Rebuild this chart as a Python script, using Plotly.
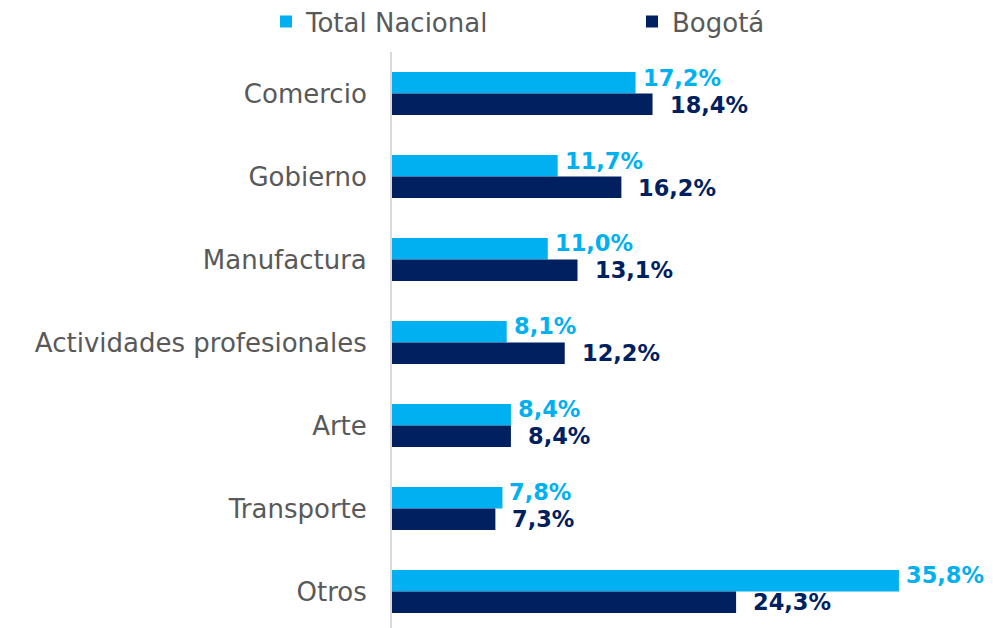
import plotly.graph_objects as go

categories = ["Comercio", "Gobierno", "Manufactura", "Actividades profesionales", "Arte", "Transporte", "Otros"]
total_nacional = [17.2, 11.7, 11.0, 8.1, 8.4, 7.8, 35.8]
bogota = [18.4, 16.2, 13.1, 12.2, 8.4, 7.3, 24.3]
series_names = ["Total Nacional", "Bogotá"]
colors = ["#00B0F0", "#002060"]

def fmt(v):
    return f"{v:.1f}".replace(".", ",") + "%"

FONT = "Century Gothic, DejaVu Sans, sans-serif"
GRAY = "#595959"

fig = go.Figure()
for name, vals, col in zip(series_names, [total_nacional, bogota], colors):
    fig.add_trace(go.Bar(
        y=categories, x=vals, name=name, orientation="h",
        marker=dict(color=col, line=dict(width=0)),
        cliponaxis=False,
    ))

# data labels (placed at each bar's value through the axes)
label_shift = [(5, 16), (15, -11)]
for (xs, ys), vals, col in zip(label_shift, [total_nacional, bogota], colors):
    for cat, v in zip(categories, vals):
        fig.add_annotation(
            x=v, y=cat, xref="x", yref="y", text=fmt(v), showarrow=False,
            xanchor="left", yanchor="middle", xshift=xs, yshift=ys,
            font=dict(family=FONT, size=22.5, color=col, weight="bold"),
        )

fig.update_layout(
    width=977, height=620,
    margin=dict(l=384, r=0, t=44, b=0, autoexpand=False),
    paper_bgcolor="white", plot_bgcolor="white",
    barmode="group", bargap=0.48, bargroupgap=0,
    font=dict(family=FONT, size=26, color=GRAY),
    legend=dict(orientation="h", x=-0.2125, xanchor="left", y=1.012, yanchor="bottom",
                font=dict(family=FONT, size=26, color=GRAY),
                entrywidth=321, entrywidthmode="pixels", itemclick=False,
                itemwidth=30, tracegroupgap=0),
    xaxis=dict(range=[0, 593 / 14.16], showgrid=False, showticklabels=False,
               zeroline=False, showline=False),
    yaxis=dict(categoryorder="array", categoryarray=categories,
               range=[6.44, -0.5], showgrid=False, showline=True,
               linecolor="#D9D9D9", linewidth=2, ticks="", ticklabelstandoff=18,
               tickfont=dict(family=FONT, size=26, color=GRAY)),
)

fig.write_html("out.html")
